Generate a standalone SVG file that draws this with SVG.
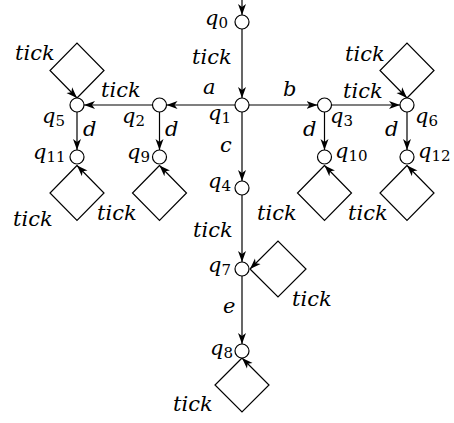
<svg xmlns="http://www.w3.org/2000/svg" width="454" height="423" viewBox="0 0 454 423">
<style>
.n{fill:#fff;stroke:#000;stroke-width:1.2}
.e{fill:none;stroke:#000;stroke-width:1.2;marker-end:url(#ah)}
text{font-family:"DejaVu Serif","Liberation Serif",serif;font-style:italic;font-size:21px;fill:#000}
.s{font-style:normal;font-size:15px}
</style>
<defs>
<marker id="ah" markerUnits="userSpaceOnUse" markerWidth="12" markerHeight="10" refX="11" refY="5" orient="auto">
<path d="M0,1 L11,5 L0,9 L3,5 Z" fill="#000"/>
</marker>
</defs>
<g id="connectors">
<path class="e" d="M242,0 L242,15"/>
<path class="e" d="M242,29 L242,98"/>
<path class="e" d="M235,105 L166.5,105"/>
<path class="e" d="M152.5,105 L84,105"/>
<path class="e" d="M249,105 L317.5,105"/>
<path class="e" d="M331.5,105 L400,105"/>
<path class="e" d="M77,112 L77,150"/>
<path class="e" d="M159.5,112 L159.5,150"/>
<path class="e" d="M324.5,112 L324.5,150"/>
<path class="e" d="M407,112 L407,150"/>
<path class="e" d="M242,112 L242,181"/>
<path class="e" d="M242,195 L242,262"/>
<path class="e" d="M242,276 L242,344"/>
<path class="e" d="M77,98 L104,70.5 L77,43 L50,70.5 L77,98"/>
<path class="e" d="M407,98 L434,70.5 L407,43 L380,70.5 L407,98"/>
<path class="e" d="M77,165.5 L50,193 L77,220.5 L104,193 L77,165.5"/>
<path class="e" d="M159.5,165.5 L132.5,193 L159.5,220.5 L186.5,193 L159.5,165.5"/>
<path class="e" d="M324.5,165.5 L297.5,193 L324.5,220.5 L351.5,193 L324.5,165.5"/>
<path class="e" d="M407,165.5 L380,193 L407,220.5 L434,193 L407,165.5"/>
<path class="e" d="M250,269 L278,297 L306,269 L278,241 L250,269"/>
<path class="e" d="M242,358 L215,385 L242,412 L269,385 L242,358"/>
<text x="192" y="64">tick</text>
<text x="203" y="94">a</text>
<text x="283" y="96">b</text>
<text x="220" y="152">c</text>
<text x="101" y="97">tick</text>
<text x="343" y="98">tick</text>
<text x="15" y="60">tick</text>
<text x="345" y="61">tick</text>
<text x="83" y="136">d</text>
<text x="165" y="136">d</text>
<text x="303" y="136">d</text>
<text x="385" y="136">d</text>
<text x="13" y="226">tick</text>
<text x="97" y="220">tick</text>
<text x="257" y="220">tick</text>
<text x="348" y="220">tick</text>
<text x="193" y="237">tick</text>
<text x="292" y="306">tick</text>
<text x="223" y="313">e</text>
<text x="173" y="411">tick</text>
</g>
<g id="q0"><circle class="n" cx="242" cy="22" r="7"/><text x="205" y="25">q<tspan class="s" dy="3">0</tspan></text></g>
<g id="q1"><circle class="n" cx="242" cy="105" r="7"/><text x="208" y="120">q<tspan class="s" dy="3">1</tspan></text></g>
<g id="q2"><circle class="n" cx="159.5" cy="105" r="7"/><text x="122" y="123">q<tspan class="s" dy="3">2</tspan></text></g>
<g id="q5"><circle class="n" cx="77" cy="105" r="7"/><text x="42" y="123">q<tspan class="s" dy="3">5</tspan></text></g>
<g id="q3"><circle class="n" cx="324.5" cy="105" r="7"/><text x="330" y="123">q<tspan class="s" dy="3">3</tspan></text></g>
<g id="q6"><circle class="n" cx="407" cy="105" r="7"/><text x="415" y="123">q<tspan class="s" dy="3">6</tspan></text></g>
<g id="q11"><circle class="n" cx="77" cy="157" r="7"/><text x="33" y="159">q<tspan class="s" dy="3">11</tspan></text></g>
<g id="q9"><circle class="n" cx="159.5" cy="157" r="7"/><text x="127" y="159">q<tspan class="s" dy="3">9</tspan></text></g>
<g id="q10"><circle class="n" cx="324.5" cy="157" r="7"/><text x="335" y="158">q<tspan class="s" dy="3">10</tspan></text></g>
<g id="q12"><circle class="n" cx="407" cy="157" r="7"/><text x="418" y="158">q<tspan class="s" dy="3">12</tspan></text></g>
<g id="q4"><circle class="n" cx="242" cy="188" r="7"/><text x="208" y="188">q<tspan class="s" dy="3">4</tspan></text></g>
<g id="q7"><circle class="n" cx="242" cy="269" r="7"/><text x="208" y="272">q<tspan class="s" dy="3">7</tspan></text></g>
<g id="q8"><circle class="n" cx="242" cy="351" r="7"/><text x="210" y="355">q<tspan class="s" dy="3">8</tspan></text></g>
</svg>
